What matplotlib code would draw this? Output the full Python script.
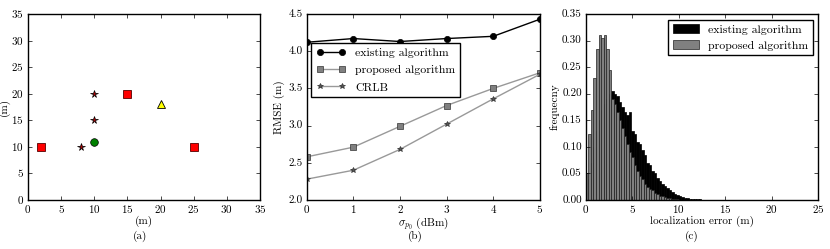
import matplotlib
matplotlib.use("Agg")
import matplotlib.pyplot as plt
import numpy as np

# ---- (a) node layout ----
anchor_x = [2, 15, 25]
anchor_y = [10, 20, 10]
star_x = [8, 10, 10]
star_y = [10, 15, 20]
target_x = [10]
target_y = [11]
tri_x = [20]
tri_y = [18]

# ---- (b) RMSE vs sigma ----
sigma = [0, 1, 2, 3, 4, 5]
rmse_existing = [4.12, 4.17, 4.13, 4.17, 4.20, 4.43]
rmse_proposed = [2.58, 2.71, 2.99, 3.27, 3.50, 3.71]
rmse_crlb = [2.28, 2.40, 2.68, 3.02, 3.36, 3.69]

# ---- (c) error histograms (normalised) ----
bin_width = 0.27
hist_existing = [0.015, 0.04, 0.07, 0.10, 0.13, 0.15, 0.17, 0.18, 0.19, 0.20,
                 0.205, 0.20, 0.195, 0.185, 0.175, 0.165, 0.16, 0.165, 0.13, 0.125,
                 0.11, 0.105, 0.095, 0.085, 0.07, 0.065, 0.055, 0.05, 0.042, 0.035,
                 0.03, 0.027, 0.022, 0.018, 0.015, 0.012, 0.009, 0.007, 0.005, 0.004,
                 0.003, 0.0025, 0.002, 0.0015, 0.001, 0.001, 0.0008, 0.0006, 0.0005,
                 0.0004, 0.0003, 0.0002, 0.0002]
hist_proposed = [0.05, 0.125, 0.17, 0.23, 0.285, 0.31, 0.305, 0.31, 0.285, 0.245,
                 0.19, 0.18, 0.165, 0.15, 0.135, 0.12, 0.105, 0.09, 0.08, 0.065,
                 0.055, 0.045, 0.04, 0.03, 0.025, 0.02, 0.018, 0.013, 0.011, 0.008,
                 0.007, 0.005, 0.004, 0.003, 0.002, 0.0015, 0.001, 0.0008, 0.0005]

plt.style.use("classic")
plt.rcParams.update({
    "font.family": "serif",
    "font.serif": ["cmr10", "DejaVu Serif"],
    "mathtext.fontset": "cm",
    "axes.formatter.use_mathtext": True,
    "figure.facecolor": "white",
    "savefig.facecolor": "white",
    "xtick.labelsize": 8,
    "ytick.labelsize": 8,
    "axes.labelsize": 8,
    "legend.fontsize": 8.5,
    "axes.linewidth": 1.0,
    "xtick.major.size": 3,
    "ytick.major.size": 3,
    "xtick.minor.size": 0,
    "ytick.minor.size": 0,
    "xtick.major.pad": 2,
    "ytick.major.pad": 3,
})

fig = plt.figure(figsize=(8.3, 2.49), dpi=100)
ax_a = fig.add_axes([0.0337, 0.1968, 0.2795, 0.747])
ax_b = fig.add_axes([0.3695, 0.1968, 0.281, 0.747])
ax_c = fig.add_axes([0.706, 0.1968, 0.2795, 0.747])

# (a)
ax_a.plot(anchor_x, anchor_y, "s", color="red", mec="#550000", ms=6, mew=0.6)
ax_a.plot(star_x, star_y, "*", color="#b00000", mec="black", ms=5.5, mew=0.5)
ax_a.plot(target_x, target_y, "o", color="green", mec="black", ms=5.5, mew=0.5)
ax_a.plot(tri_x, tri_y, "^", color="yellow", mec="black", ms=5.5, mew=0.6)
ax_a.set_xlim(0, 35)
ax_a.set_ylim(0, 35)
ax_a.set_xticks(np.arange(0, 36, 5))
ax_a.set_yticks(np.arange(0, 36, 5))
ax_a.set_xlabel("(m)", labelpad=1)
ax_a.set_ylabel("(m)", labelpad=1)

# (b)
ax_b.plot(sigma, rmse_existing, "-o", color="black", mec="black", ms=4.5,
          lw=1.0, label="existing algorithm")
ax_b.plot(sigma, rmse_proposed, "-s", color="#999999", mfc="#808080",
          mec="#333333", ms=4, lw=1.0, label="proposed algorithm")
ax_b.plot(sigma, rmse_crlb, "-*", color="#999999", mfc="#555555",
          mec="#333333", ms=4, lw=1.0, label="CRLB")
ax_b.set_xlim(0, 5)
ax_b.set_ylim(2.0, 4.5)
ax_b.set_yticks(np.arange(2.0, 4.51, 0.5))
ax_b.yaxis.set_major_formatter(matplotlib.ticker.FormatStrFormatter("%.1f"))
ax_b.set_xlabel(r"$\sigma_{p_0}$ (dBm)", labelpad=0)
ax_b.set_ylabel("RMSE (m)", labelpad=2)
ax_b.legend(loc="upper left", bbox_to_anchor=(0.02, 0.845), borderaxespad=0,
            numpoints=2, fancybox=False, borderpad=0.4, labelspacing=0.6,
            handlelength=2.5)

# (c)
left_e = np.arange(len(hist_existing)) * bin_width
left_p = np.arange(len(hist_proposed)) * bin_width
ax_c.bar(left_e, hist_existing, width=bin_width, align="edge", color="black",
         edgecolor="black", lw=0.5, label="existing algorithm")
ax_c.bar(left_p, hist_proposed, width=bin_width, align="edge", color="#808080",
         edgecolor="#222222", lw=0.5, label="proposed algorithm")
ax_c.set_xlim(0, 25)
ax_c.set_ylim(0, 0.35)
ax_c.set_yticks(np.arange(0, 0.351, 0.05))
ax_c.yaxis.set_major_formatter(matplotlib.ticker.FormatStrFormatter("%.2f"))
ax_c.set_xlabel("localization error (m)", labelpad=1)
ax_c.set_ylabel("frequecny", labelpad=2)
ax_c.legend(loc="upper right", bbox_to_anchor=(0.98, 0.97), borderaxespad=0,
            fancybox=False, borderpad=0.4, labelspacing=0.5, handlelength=2.2)

for x, s in [(140, "(a)"), (415, "(b)"), (692, "(c)")]:
    fig.text(x / 830, 13 / 249, s, ha="center", va="center", fontsize=8)

fig.savefig("out.png", dpi=100)
